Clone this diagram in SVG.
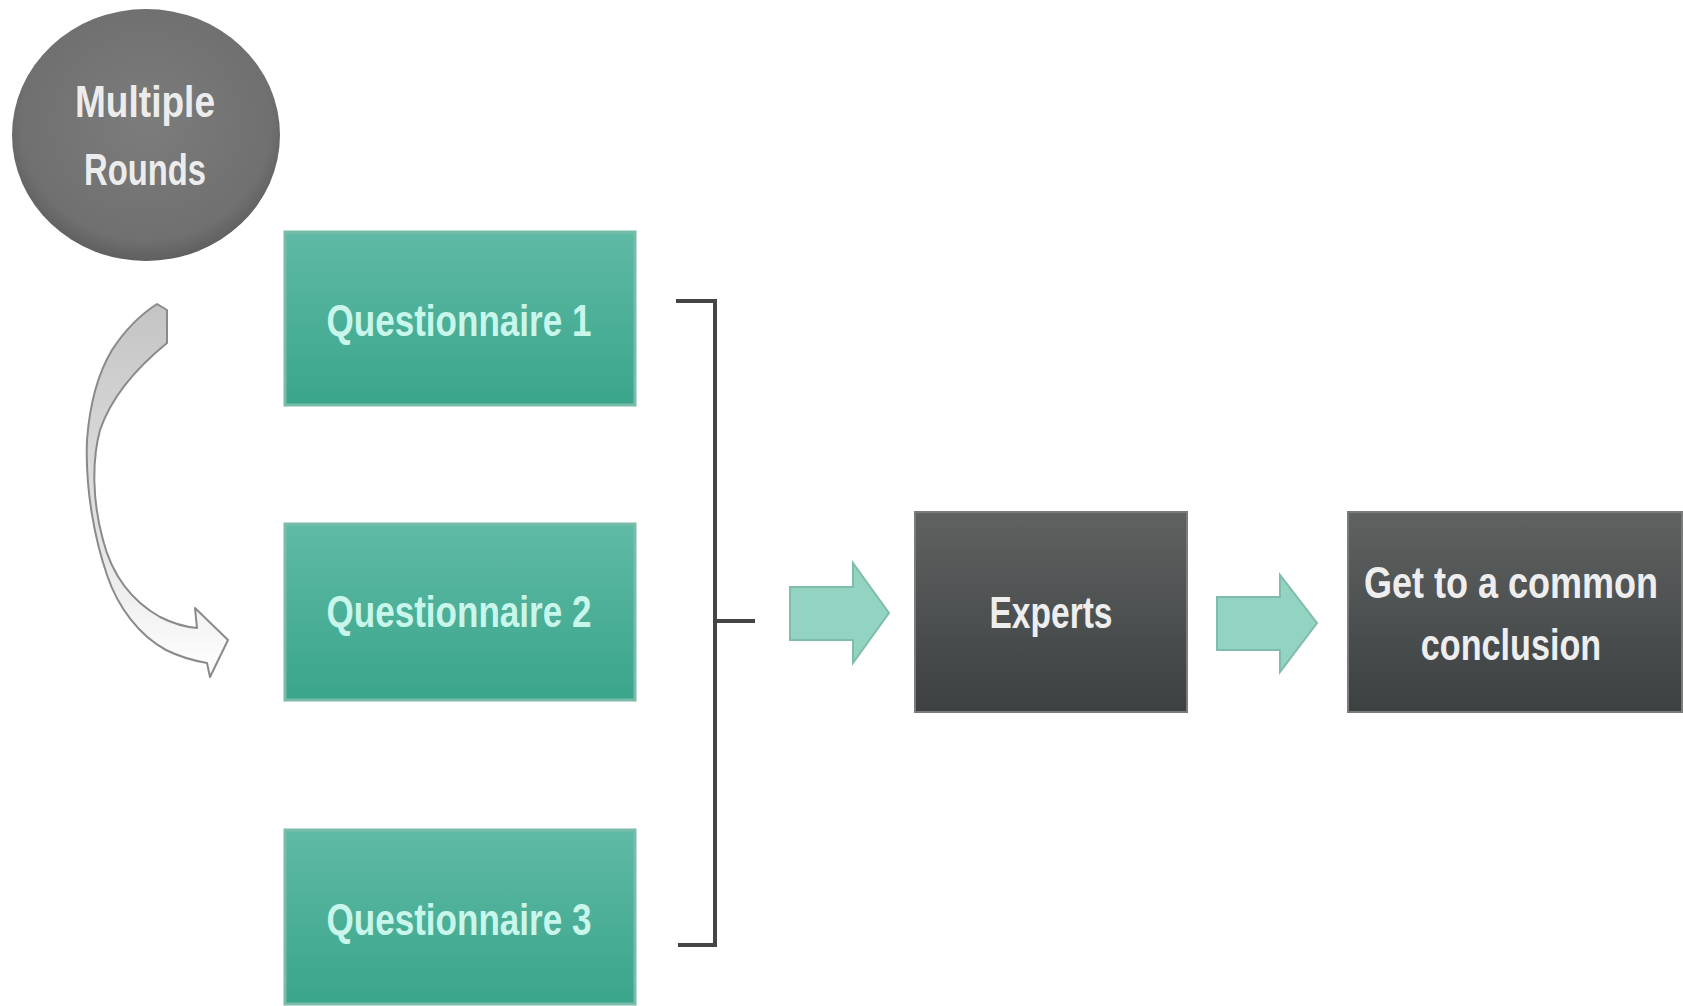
<svg xmlns="http://www.w3.org/2000/svg" width="1683" height="1006" viewBox="0 0 1683 1006">
<defs>
<linearGradient id="gq" x1="0" y1="0" x2="0" y2="1">
<stop offset="0" stop-color="#5fbaa5"/>
<stop offset="1" stop-color="#3aa58b"/>
</linearGradient>
<linearGradient id="gd" x1="0" y1="0" x2="0" y2="1">
<stop offset="0" stop-color="#5f6261"/>
<stop offset="1" stop-color="#3d4041"/>
</linearGradient>
<radialGradient id="gc" cx="0.5" cy="0.45" r="0.55">
<stop offset="0" stop-color="#7b7c7b"/>
<stop offset="0.85" stop-color="#6f706f"/>
<stop offset="1" stop-color="#5e5f5e"/>
</radialGradient>
<linearGradient id="gcurve" x1="0" y1="0" x2="0" y2="1">
<stop offset="0" stop-color="#c4c4c4"/>
<stop offset="0.6" stop-color="#e2e2e2"/>
<stop offset="1" stop-color="#ffffff"/>
</linearGradient>
<style>
.qbox{fill:url(#gq);stroke:#79bcaa;stroke-width:3}
.dbox{fill:url(#gd);stroke:#7a7c7c;stroke-width:2}
.qt{font-family:"Liberation Sans",Arial,sans-serif;font-size:44px;font-weight:bold;fill:#c9f6ea;text-anchor:middle}
.dt{font-family:"Liberation Sans",Arial,sans-serif;font-size:45px;font-weight:bold;fill:#eeeeee;text-anchor:middle}
.ct{font-family:"Liberation Sans",Arial,sans-serif;font-size:45px;font-weight:bold;fill:#ececec;text-anchor:middle}
.fat{fill:#93d3c1;stroke:#7fbcab;stroke-width:2}
</style>
</defs>
<rect width="1683" height="1006" fill="#ffffff"/>

<g id="multiple-rounds">
<ellipse cx="146" cy="135" rx="134" ry="126" fill="url(#gc)"/>
<text class="ct" x="145" y="117" textLength="140" lengthAdjust="spacingAndGlyphs">Multiple</text>
<text class="ct" x="145" y="185" textLength="122" lengthAdjust="spacingAndGlyphs">Rounds</text>
</g>

<g id="questionnaire-1">
<rect class="qbox" x="285" y="232" width="350" height="173"/>
<text class="qt" x="459" y="336" textLength="265" lengthAdjust="spacingAndGlyphs">Questionnaire 1</text>
</g>
<g id="questionnaire-2">
<rect class="qbox" x="285" y="524" width="350" height="176"/>
<text class="qt" x="459" y="627" textLength="265" lengthAdjust="spacingAndGlyphs">Questionnaire 2</text>
</g>
<g id="questionnaire-3">
<rect class="qbox" x="285" y="830" width="350" height="174"/>
<text class="qt" x="459" y="935" textLength="265" lengthAdjust="spacingAndGlyphs">Questionnaire 3</text>
</g>

<g id="experts">
<rect class="dbox" x="915" y="512" width="272" height="200"/>
<text class="dt" x="1051" y="628" textLength="123" lengthAdjust="spacingAndGlyphs">Experts</text>
</g>
<g id="conclusion">
<rect class="dbox" x="1348" y="512" width="334" height="200"/>
<text class="dt" transform="translate(1511,598) scale(0.8,1)" x="0" y="0" font-size="44">Get to a common</text>
<text class="dt" transform="translate(1511,660) scale(0.76,1)" x="0" y="0">conclusion</text>
</g>

<g id="connectors">
<path d="M157,304 L167,310 L167,343 C140,365 112,395 100,430 C92,460 92,500 103,540 C112,575 130,600 160,617 C172,623 185,627 197,628 L195,608 L228,640 L210,677 L207,663 C190,660 178,656 166,650 C140,636 118,608 107,575 C95,540 85,490 87,440 C90,400 100,370 112,350 C125,330 140,315 157,304 Z" fill="url(#gcurve)" stroke="#8a8a8a" stroke-width="2" stroke-linejoin="round"/>
<path d="M676,301 L715,301 L715,945 L678,945 M715,621 L755,621" fill="none" stroke="#444646" stroke-width="4"/>
<path class="fat" d="M790,587 L853,587 L853,563 L889,613 L853,663 L853,640 L790,640 Z"/>
<path class="fat" d="M1217,597 L1280,597 L1280,575 L1317,623 L1280,672 L1280,650 L1217,650 Z"/>
</g>
</svg>
